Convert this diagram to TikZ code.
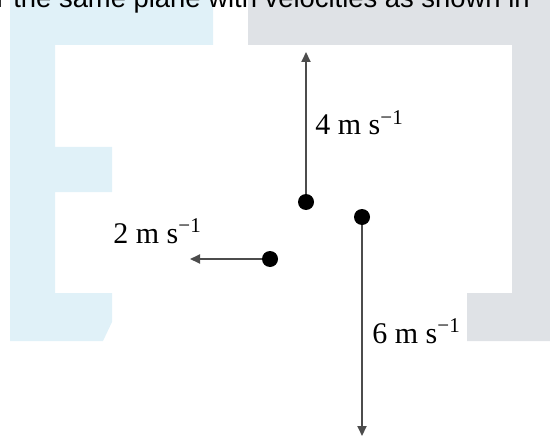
\documentclass[tikz,border=0pt]{standalone}
\usepackage{fontspec}
\setmainfont{Liberation Serif}
\newfontfamily\headfont{Liberation Sans}
\usetikzlibrary{arrows.meta,positioning}
\definecolor{wmblue}{RGB}{224,241,248}
\definecolor{wmgray}{RGB}{223,226,230}

\begin{document}
\begin{tikzpicture}[x=0.5pt, y=-0.5pt,
  dot/.style={circle, fill=black, inner sep=0pt, minimum size=8pt},
  vel/.style={-{Triangle[length=5pt, width=4.5pt]}, draw=black!70, line width=1pt},
  lab/.style={font=\fontsize{15}{18}\selectfont, inner sep=0pt, anchor=base west}]
  \useasboundingbox (0,0) rectangle (550,438);
  \clip (0,0) rectangle (550,438);
  % page background
  \fill[wmblue] (10,0) -- (213,0) -- (213,45) -- (55,45) -- (55,147) -- (112,147)
    -- (112,192) -- (55,192) -- (55,293) -- (112,293) -- (112,322) -- (103,341)
    -- (10,341) -- cycle;
  \fill[wmgray] (248,0) -- (550,0) -- (550,341) -- (467,341) -- (467,293)
    -- (512,293) -- (512,45) -- (248,45) -- cycle;
  \node[font=\headfont\fontsize{13.7}{16}\selectfont, inner sep=0pt, anchor=base west]
    (head) at (-19,8) {or the same plane with velocities as shown in};
  % particles
  \node[dot] (pa) at (306,202) {};
  \node[dot] (pb) at (362,217) {};
  \node[dot] (pc) at (270,259) {};
  \coordinate (ta) at (306,52);
  \coordinate (tb) at (362,436);
  \coordinate (tc) at (190,259);
  % velocities
  \draw[vel] (pa) -- (ta);
  \draw[vel] (pb) -- (tb);
  \draw[vel] (pc) -- (tc);
  \node[lab] (la) at (315,135) {4 m s\textsuperscript{−1}};
  \node[lab] (lb) at (372,343) {6 m s\textsuperscript{−1}};
  \node[lab] (lc) at (113,243) {2 m s\textsuperscript{−1}};
\end{tikzpicture}
\end{document}
